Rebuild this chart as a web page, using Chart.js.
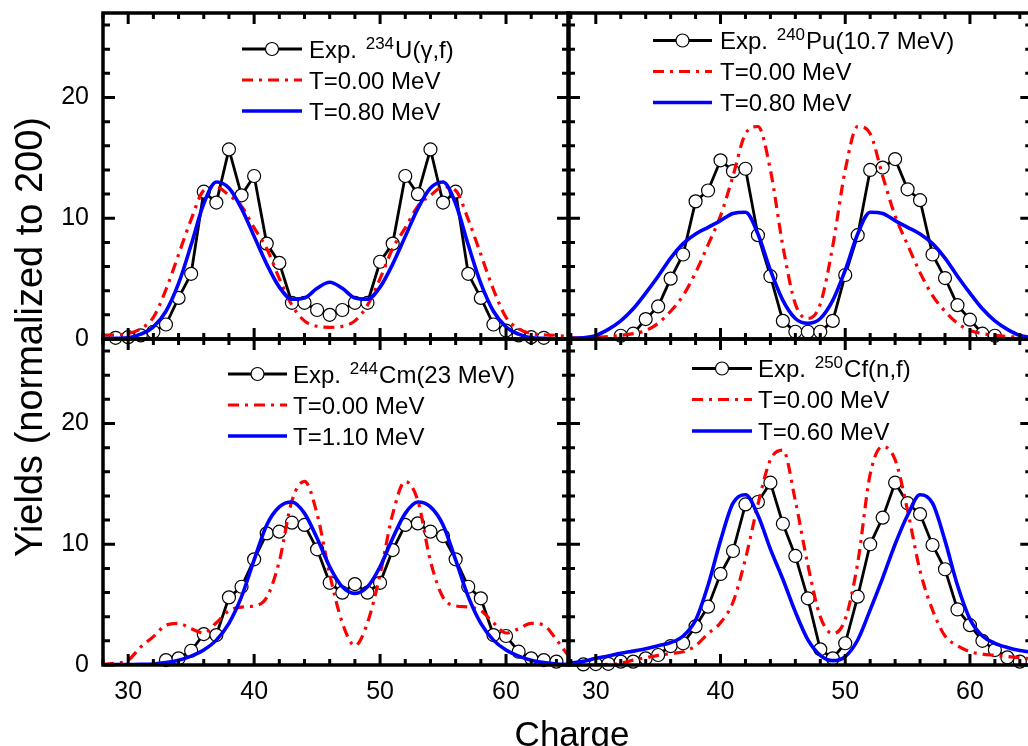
<!DOCTYPE html>
<html>
<head>
<meta charset="utf-8">
<script src="https://cdn.jsdelivr.net/npm/chart.js@4.4.0/dist/chart.umd.min.js"></script>
<style>
  html, body { margin: 0; padding: 0; background: #fff; overflow: hidden; }
  #wrap { position: relative; width: 1028px; height: 746px; overflow: hidden; background: #fff; }
  canvas { position: absolute; left: 0; top: 0; }
</style>
</head>
<body>
<div id="wrap">
  <canvas id="tl" width="1040" height="746"></canvas>
  <canvas id="tr" width="1040" height="746"></canvas>
  <canvas id="bl" width="1040" height="746"></canvas>
  <canvas id="br" width="1040" height="746"></canvas>
</div>
<script>
// calculated curves share one charge grid
const charges = [28, 29, 30, 31, 32, 33, 34, 35, 36, 37, 38, 39, 40, 41, 42, 43, 44, 45, 46,
  47, 48, 49, 50, 51, 52, 53, 54, 55, 56, 57, 58, 59, 60, 61, 62, 63, 64, 65];

// 234U(g,f)
const tlExpCharges = [29, 30, 31, 32, 33, 34, 35, 36, 37, 38, 39, 40, 41, 42, 43, 44, 45, 46,
  47, 48, 49, 50, 51, 52, 53, 54, 55, 56, 57, 58, 59, 60, 61, 62, 63];
const tlExp = [0.1, 0.15, 0.3, 0.6, 1.2, 3.4, 5.4, 12.2, 11.3, 15.7, 11.9, 13.5, 7.9, 6.3, 3.0, 3.0, 2.4, 2.0,
  2.4, 3.0, 3.0, 6.4, 7.9, 13.5, 12.0, 15.7, 11.3, 12.2, 5.4, 3.4, 1.2, 0.7, 0.3, 0.15, 0.1];
const tlT000 = [0.3, 0.35, 0.45, 0.85, 1.8, 4.1, 7.0, 9.9, 12.3, 12.6, 11.9, 11.0, 9.2, 7.5, 5.0, 2.8, 1.5, 1.05, 0.97,
  1.05, 1.5, 2.8, 5.0, 7.5, 9.2, 11.0, 11.9, 12.6, 12.3, 9.9, 7.0, 4.1, 1.8, 0.85, 0.45, 0.35, 0.3, 0.2];
const tlT080 = [0.02, 0.05, 0.1, 0.4, 1.0, 2.3, 4.6, 7.8, 11.2, 13.0, 12.5, 10.8, 8.5, 6.2, 4.3, 3.3, 3.4, 4.2, 4.7,
  4.2, 3.4, 3.3, 4.3, 6.2, 8.5, 10.8, 12.5, 13.0, 11.2, 7.8, 4.6, 2.3, 1.0, 0.4, 0.1, 0.05, 0.02, 0.01];

// 240Pu(10.7 MeV)
const trExpCharges = [32, 33, 34, 35, 36, 37, 38, 39, 40, 41, 42, 43, 44, 45, 46, 47, 48, 49,
  50, 51, 52, 53, 54, 55, 56, 57, 58, 59, 60, 61, 62];
const trExp = [0.27, 0.44, 1.65, 2.7, 5.0, 7.0, 11.4, 12.3, 14.8, 13.9, 14.1, 8.6, 5.2, 1.5, 0.6, 0.6, 0.6, 1.5,
  5.3, 8.6, 14.0, 14.2, 14.9, 12.4, 11.5, 7.0, 5.05, 2.8, 1.6, 0.44, 0.27];
const trT000 = [0.1, 0.1, 0.15, 0.2, 0.3, 0.45, 0.7, 1.3, 2.3, 3.6, 5.5, 7.8, 10.2, 13.5, 17.0, 17.6, 14.0, 7.7, 2.9,
  1.7, 2.9, 7.7, 14.0, 17.6, 17.0, 13.5, 10.2, 7.8, 5.5, 3.6, 2.3, 1.3, 0.7, 0.45, 0.3, 0.2, 0.15, 0.1];
const trT080 = [0.05, 0.1, 0.3, 0.8, 1.5, 2.5, 3.8, 5.2, 6.7, 7.9, 8.7, 9.25, 9.8, 10.4, 10.5, 8.7, 5.7, 3.2, 1.7,
  1.3, 1.7, 3.2, 5.7, 8.7, 10.5, 10.4, 9.8, 9.25, 8.7, 7.9, 6.7, 5.2, 3.8, 2.5, 1.5, 0.8, 0.3, 0.1];

// 244Cm(23 MeV)
const blExpCharges = [33, 34, 35, 36, 37, 38, 39, 40, 41, 42, 43, 44, 45, 46, 47, 48, 49, 50,
  51, 52, 53, 54, 55, 56, 57, 58, 59, 60, 61, 62, 63, 64];
const blExp = [0.41, 0.55, 1.18, 2.56, 2.48, 5.6, 6.48, 8.75, 10.9, 11.04, 11.79, 11.6, 9.58, 6.81, 5.99, 6.7, 5.99, 6.81,
  9.52, 11.6, 11.73, 11.04, 10.68, 8.75, 6.48, 5.52, 2.48, 2.4, 1.1, 0.55, 0.41, 0.28];
const blT000 = [0.05, 0.15, 0.4, 1.5, 2.35, 3.3, 3.45, 3.0, 2.65, 3.5, 4.5, 4.8, 4.9, 5.6, 8.6, 13.6, 15.2, 12.5, 7.5,
  3.5, 1.6, 3.5, 7.5, 12.5, 15.2, 13.6, 8.6, 5.6, 4.9, 4.8, 4.5, 3.5, 2.65, 3.0, 3.45, 3.3, 2.1, 0.7];
const blT110 = [0.02, 0.03, 0.04, 0.05, 0.08, 0.2, 0.4, 0.74, 1.24, 2.06, 3.45, 5.66, 8.7, 11.6, 13.1, 13.5, 12.56, 10.5, 8.14,
  6.48, 5.93, 6.48, 8.14, 10.5, 12.56, 13.5, 13.1, 11.6, 8.7, 5.66, 3.45, 2.06, 1.24, 0.74, 0.4, 0.2, 0.08, 0.05];

// 250Cf(n,f)
const brExpCharges = [29, 30, 31, 32, 33, 34, 35, 36, 37, 38, 39, 40, 41, 42, 43, 44, 45, 46,
  47, 48, 49, 50, 51, 52, 53, 54, 55, 56, 57, 58, 59, 60, 61, 62, 63, 64];
const brExp = [0.05, 0.08, 0.1, 0.28, 0.28, 0.55, 0.83, 1.57, 1.8, 3.2, 4.83, 7.54, 9.44, 13.3, 13.5, 15.1, 11.7, 9.03,
  5.52, 1.3, 0.55, 1.8, 5.66, 10.0, 12.2, 15.1, 13.4, 12.5, 9.94, 7.93, 4.6, 3.3, 2.0, 1.24, 0.63, 0.28];
const brT000 = [0.0, 0.0, 0.02, 0.05, 0.15, 0.4, 0.6, 0.8, 0.95, 1.1, 1.6, 2.6, 3.5, 5.2, 8.8, 13.3, 17.0, 17.8, 13.6,
  8.3, 4.0, 2.6, 3.8, 8.45, 15.8, 18.1, 17.0, 12.8, 7.8, 4.56, 2.4, 1.6, 1.1, 0.9, 0.8, 0.7, 0.6, 0.5];
const brT060 = [0.15, 0.3, 0.55, 0.75, 0.97, 1.15, 1.35, 1.6, 1.85, 2.4, 3.7, 6.6, 10.3, 13.4, 14.1, 12.4, 9.6, 7.1, 4.4,
  2.1, 0.8, 0.36, 0.7, 2.07, 4.56, 7.2, 10.0, 12.4, 14.1, 13.4, 10.3, 6.6, 3.8, 2.4, 1.8, 1.45, 1.2, 1.05];

const tlLabels = ['Exp. ^{234}U(\u03b3,f)', 'T=0.00 MeV', 'T=0.80 MeV'];
const trLabels = ['Exp. ^{240}Pu(10.7 MeV)', 'T=0.00 MeV', 'T=0.80 MeV'];
const blLabels = ['Exp. ^{244}Cm(23 MeV)', 'T=0.00 MeV', 'T=1.10 MeV'];
const brLabels = ['Exp. ^{250}Cf(n,f)', 'T=0.00 MeV', 'T=0.60 MeV'];

const xTickLabels = [30, 40, 50, 60];
const xMinorTicks = [28, 32, 34, 36, 38, 42, 44, 46, 48, 52, 54, 56, 58, 62, 64];
const yTickLabels = [0, 10, 20];
const yMinorTicks = [2, 4, 6, 8, 12, 14, 16, 18, 22, 24, 26];

const yTitle = 'Yields (normalized to 200)';
const xTitle = 'Charge';

const W = 1040, H = 746;
const FONT = '"Liberation Sans", Arial, sans-serif';
Chart.defaults.font.family = FONT;
Chart.defaults.color = '#000';

const pts = (xs, ys) => xs.map((x, i) => ({ x: x, y: ys[i] }));

// frame and inward ticks on all four sides
const framePlugin = {
  id: 'frame',
  afterDatasetsDraw(chart) {
    const { ctx, chartArea: a, scales: { x, y } } = chart;
    ctx.save();
    ctx.strokeStyle = '#000';
    ctx.lineCap = 'butt';
    ctx.lineWidth = 3;
    ctx.beginPath();
    const xt = xTickLabels.map(v => [v, 11]).concat(xMinorTicks.map(v => [v, 6]));
    xt.forEach(([v, len]) => {
      const px = x.getPixelForValue(v);
      if (px < a.left || px > a.right) return;
      ctx.moveTo(px, a.top); ctx.lineTo(px, a.top + len);
      ctx.moveTo(px, a.bottom); ctx.lineTo(px, a.bottom - len);
    });
    const yt = yTickLabels.map(v => [v, 12]).concat(yMinorTicks.map(v => [v, 7]));
    yt.forEach(([v, len]) => {
      const py = y.getPixelForValue(v);
      ctx.moveTo(a.left, py); ctx.lineTo(a.left + len, py);
      ctx.moveTo(a.right, py); ctx.lineTo(a.right - len, py);
    });
    ctx.stroke();
    ctx.lineWidth = 3.5;
    ctx.strokeRect(a.left, a.top, a.right - a.left, a.bottom - a.top);
    ctx.restore();
  }
};

function drawRich(ctx, str, x, y) {
  str.split(/(\^\{[^}]*\})/).forEach(p => {
    if (!p) return;
    if (p.startsWith('^{')) {
      const t = p.slice(2, -1);
      ctx.font = '17px ' + FONT;
      x += 2;
      ctx.fillText(t, x, y - 9);
      x += ctx.measureText(t).width + 1;
    } else {
      ctx.font = '24px ' + FONT;
      ctx.fillText(p, x, y);
      x += ctx.measureText(p).width;
    }
  });
}

const legendPlugin = {
  id: 'panelLegend',
  afterDraw(chart, args, opts) {
    if (!opts.labels) return;
    const ctx = chart.ctx;
    ctx.save();
    ctx.fillStyle = '#000';
    ctx.textBaseline = 'alphabetic';
    ctx.textAlign = 'left';
    opts.rows.forEach((ry, i) => {
      ctx.beginPath();
      ctx.setLineDash(i === 1 ? [11, 6, 3, 6] : []);
      ctx.strokeStyle = ['#000', '#ff0000', '#0000ff'][i];
      ctx.lineWidth = [2.8, 3.2, 3.6][i];
      ctx.moveTo(opts.x0, ry); ctx.lineTo(opts.x1, ry);
      ctx.stroke();
      ctx.setLineDash([]);
      if (i === 0) {
        ctx.beginPath();
        ctx.arc((opts.x0 + opts.x1) / 2, ry, 6.5, 0, Math.PI * 2);
        ctx.fillStyle = '#fff'; ctx.fill();
        ctx.lineWidth = 1.2; ctx.strokeStyle = '#000'; ctx.stroke();
        ctx.fillStyle = '#000';
      }
      drawRich(ctx, opts.labels[i], opts.textX, ry + 8.6);
    });
    ctx.restore();
  }
};

const titlePlugin = {
  id: 'axisTitles',
  afterDraw(chart, args, opts) {
    if (!opts.show) return;
    const ctx = chart.ctx;
    ctx.save();
    ctx.fillStyle = '#000';
    ctx.font = '38px ' + FONT;
    ctx.textAlign = 'center';
    ctx.textBaseline = 'alphabetic';
    ctx.translate(42, 337);
    ctx.rotate(-Math.PI / 2);
    ctx.fillText(yTitle, 0, 0);
    ctx.restore();
    ctx.save();
    ctx.fillStyle = '#000';
    ctx.font = '35px ' + FONT;
    ctx.textAlign = 'center';
    ctx.fillText(xTitle, 572, 746);
    ctx.restore();
  }
};

const panels = [
  { id: 'tl', area: { left: 103, top: 13, right: 569, bottom: 339 }, xMin: 28, xMax: 65, showX: false, showY: true,
    expX: tlExpCharges, exp: tlExp, red: tlT000, blue: tlT080, labels: tlLabels,
    legend: { x0: 242, x1: 302, textX: 309, rows: [49, 80, 111] }, titles: true },
  { id: 'tr', area: { left: 568, top: 13, right: 1035.5, bottom: 339 }, xMin: 27.77, xMax: 65, showX: false, showY: false,
    expX: trExpCharges, exp: trExp, red: trT000, blue: trT080, labels: trLabels,
    legend: { x0: 653, x1: 712, textX: 720, rows: [40.5, 71.5, 102.5] } },
  { id: 'bl', area: { left: 103, top: 339, right: 569, bottom: 665 }, xMin: 28, xMax: 65, showX: true, showY: true,
    expX: blExpCharges, exp: blExp, red: blT000, blue: blT110, labels: blLabels,
    legend: { x0: 228, x1: 287, textX: 293, rows: [374, 405, 436] } },
  { id: 'br', area: { left: 568, top: 339, right: 1035.5, bottom: 665 }, xMin: 27.77, xMax: 65, showX: true, showY: false,
    expX: brExpCharges, exp: brExp, red: brT000, blue: brT060, labels: brLabels,
    legend: { x0: 692, x1: 752, textX: 758, rows: [368.5, 399.5, 431] } }
];

panels.forEach(p => {
  // a shown axis takes the whole margin on its side, a hidden one leaves it to padding
  const pad = {
    left: p.showY ? 0 : p.area.left,
    top: p.area.top,
    right: W - p.area.right,
    bottom: p.showX ? 0 : H - p.area.bottom
  };
  const xScale = {
    type: 'linear', min: p.xMin, max: p.xMax, display: p.showX,
    afterBuildTicks: s => { s.ticks = xTickLabels.map(v => ({ value: v })); },
    grid: { display: false, drawTicks: false },
    border: { display: false },
    ticks: { padding: 12, autoSkip: false, maxRotation: 0, font: { size: 25 }, color: '#000' }
  };
  if (p.showX) xScale.afterFit = s => { s.height = H - p.area.bottom; s.paddingLeft = 0; s.paddingRight = 0; };
  const yScale = {
    type: 'linear', min: 0, max: 27, display: p.showY,
    afterBuildTicks: s => { s.ticks = yTickLabels.map(v => ({ value: v })); },
    grid: { display: false, drawTicks: false },
    border: { display: false },
    ticks: { padding: 14, autoSkip: false, font: { size: 25 }, color: '#000' }
  };
  if (p.showY) yScale.afterFit = s => { s.width = p.area.left; s.paddingTop = 0; s.paddingBottom = 0; };

  new Chart(document.getElementById(p.id), {
    type: 'line',
    data: {
      datasets: [
        {
          label: p.labels[0], data: pts(p.expX, p.exp), order: 3, clip: false,
          borderColor: '#000', borderWidth: 2.8, tension: 0,
          pointRadius: 6.5, pointBackgroundColor: '#fff', pointBorderColor: '#000', pointBorderWidth: 1.2
        },
        {
          label: p.labels[1], data: pts(charges, p.red), order: 2,
          borderColor: '#ff0000', borderWidth: 3.2, borderDash: [11, 6, 3, 6],
          pointRadius: 0, cubicInterpolationMode: 'monotone'
        },
        {
          label: p.labels[2], data: pts(charges, p.blue), order: 1,
          borderColor: '#0000ff', borderWidth: 3.6,
          pointRadius: 0, cubicInterpolationMode: 'monotone'
        }
      ]
    },
    options: {
      responsive: false,
      animation: false,
      events: [],
      layout: { padding: pad },
      scales: { x: xScale, y: yScale },
      plugins: {
        legend: { display: false },
        tooltip: { enabled: false },
        panelLegend: Object.assign({ labels: p.labels }, p.legend),
        axisTitles: { show: !!p.titles }
      }
    },
    plugins: [framePlugin, legendPlugin, titlePlugin]
  });
});
</script>
</body>
</html>
